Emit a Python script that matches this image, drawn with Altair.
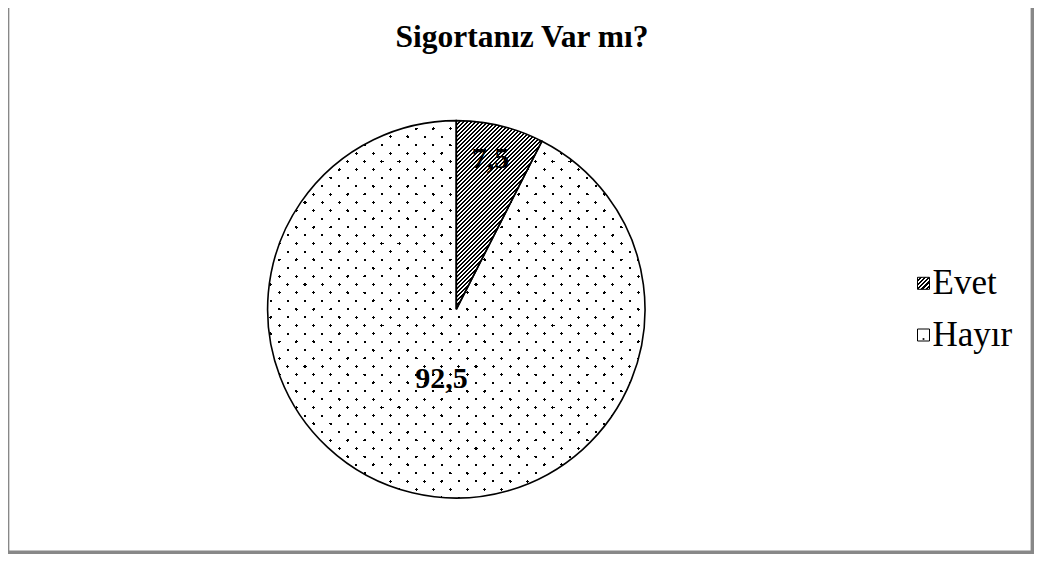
import math
import altair as alt
import pandas as pd

# ---- data ----
CATEGORIES = ["Evet", "Hayır"]
VALUES = [7.5, 92.5]
LABELS = ["7,5", "92,5"]
TITLE = "Sigortanız Var mı?"

# ---- layout (chart pixel space) ----
W, H = 1026, 546
CX, CY, R = 448.3, 301.3, 188.7
FONT = "Liberation Serif"


def stripes(bbox, normal, spacing, width, phase, fg, bg):
    """Linear gradient (objectBoundingBox units) that draws parallel stripes."""
    bx, by, bw, bh = bbox
    nx, ny = normal
    ln = math.hypot(nx, ny)
    nx, ny = nx / ln, ny / ln
    ds = [nx * x + ny * y for x in (bx, bx + bw) for y in (by, by + bh)]
    dmin, dmax = min(ds), max(ds)
    D = dmax - dmin
    gx, gy = nx * bw, ny * bh
    g2 = gx * gx + gy * gy
    c0 = nx * bx + ny * by
    x1 = gx * (dmin - c0) / g2
    y1 = gy * (dmin - c0) / g2
    x2 = x1 + gx * D / g2
    y2 = y1 + gy * D / g2
    if abs(x2) < 1e-9:
        x2 = 1e-6
    d0 = nx * phase[0] + ny * phase[1]
    stops = [{"offset": 0, "color": bg}]
    k = math.floor((dmin - width - d0) / spacing)
    while True:
        c = d0 + k * spacing
        if c - width / 2 > dmax:
            break
        a = max(0.0, min(1.0, (c - width / 2 - dmin) / D))
        b = max(0.0, min(1.0, (c + width / 2 - dmin) / D))
        if b > a:
            a, b = round(a, 5), round(b, 5)
            stops += [
                {"offset": a, "color": bg},
                {"offset": a, "color": fg},
                {"offset": b, "color": fg},
                {"offset": b, "color": bg},
            ]
        k += 1
    stops.append({"offset": 1, "color": bg})
    return {"gradient": "linear", "x1": round(x1, 6), "y1": round(y1, 6),
            "x2": round(x2, 6), "y2": round(y2, 6), "stops": stops}


CLEAR = "rgba(255,255,255,0)"
ang = VALUES[0] / sum(VALUES) * 2 * math.pi

# hatch for the small slice
hatch = stripes((CX, CY - R, R * math.sin(ang), R), (1, 1), 2.83, 1.2,
                (CX, CY), "black", "white")
# staggered dot lattice for the big slice = family A stripes x family B gaps
ax, ay = 8.55, 8.2
sp = 2 * ax * ay / math.hypot(ax, ay)
P0 = (297.0, 243.7)
box = (CX - R, CY - R, 2 * R, 2 * R)
dotsA = stripes(box, (ay, -ax), sp, 2.2, P0, "black", CLEAR)
maskB = stripes(box, (ay, ax), sp, 2.2, P0, CLEAR, "white")

# legend geometry
LX, TX = 915.5, 924.5
LY = [275.3, 327.0]
SQ = 12
leg_hatch = stripes((LX - SQ / 2, LY[0] - SQ / 2, SQ, SQ), (1, 1), 3.0, 1.5,
                    (LX, LY[0]), "black", "white")

df = pd.DataFrame({"cat": CATEGORIES, "value": VALUES, "label": LABELS,
                   "idx": list(range(len(CATEGORIES)))})
one = pd.DataFrame({"t": [TITLE]})

is_evet = "datum.cat == 'Evet'"

base = alt.Chart(df).encode(
    theta=alt.Theta("value:Q", stack=True),
    order=alt.Order("idx:Q", sort="ascending"),
    x=alt.value(CX),
    y=alt.value(CY),
)

pat1 = base.mark_arc(radius=R, strokeWidth=0).encode(
    fill=alt.condition(is_evet, alt.value(hatch), alt.value(dotsA))
)
pat2 = base.mark_arc(radius=R, strokeWidth=0).encode(
    fill=alt.condition(is_evet, alt.value(CLEAR), alt.value(maskB))
)
outline = base.mark_arc(radius=R, fillOpacity=0, stroke="black", strokeWidth=1.6)

lab_small = base.transform_calculate(
    t="datum.cat == 'Evet' ? datum.label : ''"
).mark_text(radius=155, dx=-2, font=FONT, fontSize=30, fontWeight="bold",
            align="center", baseline="middle", color="black").encode(text="t:N")
lab_big = base.transform_calculate(
    t="datum.cat == 'Hayır' ? datum.label : ''"
).mark_text(radius=72, dx=2, font=FONT, fontSize=30, fontWeight="bold",
            align="center", baseline="middle", color="black").encode(text="t:N")

leg = alt.Chart(df).encode(
    y=alt.Y("cat:N", scale=alt.Scale(domain=CATEGORIES, range=LY, padding=0),
            axis=None)
)
leg_sq = leg.mark_square(size=SQ * SQ, stroke="black", strokeWidth=1,
                         opacity=1).encode(
    x=alt.value(LX),
    fill=alt.condition(is_evet, alt.value(leg_hatch), alt.value("white")),
)
leg_dot = leg.transform_filter("datum.cat == 'Hayır'").mark_square(
    size=3, color="black", opacity=1, yOffset=4
).encode(x=alt.value(LX))
leg_txt = leg.mark_text(align="left", baseline="alphabetic", dy=10.5, font=FONT,
                        fontSize=35, color="black").encode(
    x=alt.value(TX), text="cat:N"
)

title = alt.Chart(one).mark_text(font=FONT, fontSize=31.5, fontWeight="bold",
                                 align="center", baseline="alphabetic",
                                 color="black").encode(
    x=alt.value(514), y=alt.value(39), text="t:N"
)

frame = alt.Chart(one).mark_rect(fill="transparent", stroke="#888888",
                                 strokeWidth=3.4).encode(
    x=alt.value(-0.35), x2=alt.value(W - 1.7),
    y=alt.value(-10), y2=alt.value(H - 1.7)
)

chart = alt.layer(
    pat1, pat2, outline, lab_small, lab_big,
    leg_sq, leg_dot, leg_txt, title, frame
).properties(
    width=W, height=H, padding=0,
    autosize=alt.AutoSizeParams(type="none"),
    background="white",
).configure_view(strokeWidth=0)

chart.save("out.html", embed_options={"renderer": "svg", "actions": False})
